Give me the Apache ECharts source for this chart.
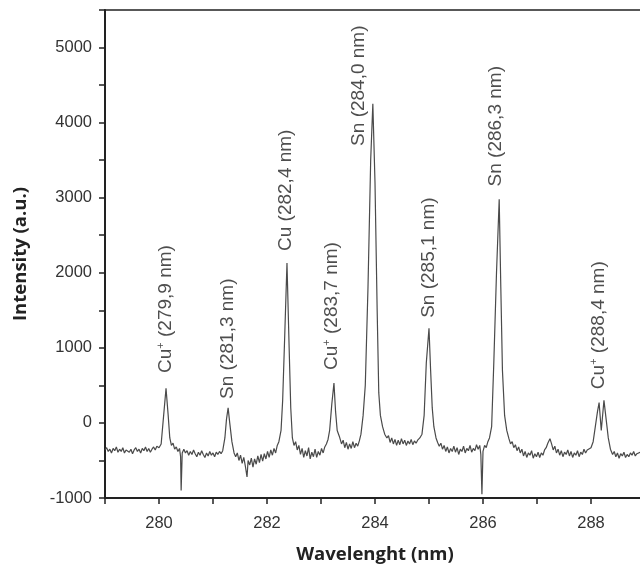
<!DOCTYPE html>
<html>
<head>
<meta charset="utf-8">
<script src="https://cdn.jsdelivr.net/npm/echarts@6/dist/echarts.min.js"></script>
<style>
  html, body { margin: 0; padding: 0; background: #fff; }
  #main { width: 640px; height: 568px; }
</style>
</head>
<body>
<div id="main"></div>
<script>
// spectrum: [wavelength nm, intensity a.u.]
var spectrum = [
  [279.00,-360],[279.03,-330],[279.06,-380],[279.09,-350],[279.12,-400],[279.15,-340],[279.18,-370],[279.21,-320],
  [279.24,-390],[279.27,-350],[279.30,-380],[279.33,-330],[279.36,-400],[279.39,-360],[279.42,-340],[279.45,-390],
  [279.48,-350],[279.51,-410],[279.54,-360],[279.57,-330],[279.60,-380],[279.63,-350],[279.66,-400],[279.69,-340],
  [279.72,-370],[279.75,-320],[279.78,-380],[279.81,-340],[279.84,-390],[279.87,-350],[279.90,-320],[279.93,-360],
  [279.96,-310],[280.00,-330],[280.04,-280],[280.08,50],[280.13,460],[280.17,100],[280.20,-200],[280.23,-300],
  [280.26,-270],[280.29,-350],[280.32,-320],[280.35,-380],[280.38,-340],[280.40,-450],[280.41,-900],[280.43,-400],
  [280.46,-350],[280.49,-400],[280.52,-370],[280.55,-430],[280.58,-380],[280.61,-420],[280.64,-360],[280.67,-410],
  [280.70,-450],[280.73,-390],[280.76,-430],[280.79,-370],[280.82,-420],[280.85,-460],[280.88,-400],[280.91,-440],
  [280.94,-380],[280.97,-430],[281.00,-400],[281.03,-450],[281.06,-390],[281.09,-420],[281.12,-380],[281.15,-410],
  [281.18,-370],[281.22,-200],[281.25,50],[281.28,200],[281.31,0],[281.35,-250],[281.39,-400],[281.42,-450],
  [281.45,-400],[281.48,-500],[281.51,-430],[281.54,-540],[281.57,-460],[281.60,-580],[281.63,-720],[281.65,-500],
  [281.68,-560],[281.71,-470],[281.74,-590],[281.77,-480],[281.80,-550],[281.83,-440],[281.86,-530],[281.89,-420],
  [281.92,-510],[281.95,-410],[281.98,-480],[282.01,-380],[282.04,-460],[282.07,-360],[282.10,-430],[282.13,-340],
  [282.16,-400],[282.19,-300],[282.22,-250],[282.26,-100],[282.29,300],[282.33,1200],[282.37,2130],[282.41,1000],
  [282.44,200],[282.47,-200],[282.50,-300],[282.53,-250],[282.56,-360],[282.59,-300],[282.62,-420],[282.65,-340],
  [282.68,-460],[282.71,-370],[282.74,-440],[282.77,-330],[282.80,-480],[282.83,-390],[282.86,-450],[282.89,-350],
  [282.92,-460],[282.95,-380],[282.98,-430],[283.01,-340],[283.04,-400],[283.07,-320],[283.10,-280],[283.13,-220],
  [283.16,-100],[283.20,250],[283.24,530],[283.27,150],[283.30,-100],[283.34,-180],[283.38,-280],[283.41,-230],
  [283.44,-330],[283.47,-260],[283.50,-350],[283.53,-280],[283.56,-340],[283.59,-250],[283.62,-330],[283.65,-270],
  [283.68,-310],[283.71,-240],[283.74,-150],[283.78,100],[283.82,500],[283.87,1800],[283.92,3500],[283.96,4250],
  [284.00,3200],[284.04,1500],[284.07,400],[284.10,100],[284.14,-50],[284.18,-150],[284.22,-200],[284.25,-170],
  [284.28,-260],[284.31,-200],[284.34,-280],[284.37,-220],[284.40,-300],[284.43,-230],[284.46,-290],[284.49,-210],
  [284.52,-280],[284.55,-230],[284.58,-300],[284.61,-240],[284.64,-280],[284.67,-220],[284.70,-290],[284.73,-240],
  [284.76,-270],[284.79,-230],[284.83,-200],[284.87,-150],[284.91,100],[284.95,800],[285.00,1260],[285.03,700],
  [285.06,200],[285.09,-50],[285.13,-200],[285.16,-260],[285.19,-310],[285.22,-270],[285.25,-350],[285.28,-300],
  [285.31,-380],[285.34,-320],[285.37,-400],[285.40,-340],[285.43,-380],[285.46,-310],[285.49,-390],[285.52,-330],
  [285.55,-420],[285.58,-350],[285.61,-380],[285.64,-310],[285.67,-400],[285.70,-340],[285.73,-370],[285.76,-300],
  [285.79,-390],[285.82,-340],[285.85,-370],[285.88,-290],[285.91,-350],[285.94,-300],[285.96,-420],[285.98,-950],
  [286.00,-380],[286.03,-300],[286.06,-330],[286.09,-250],[286.12,-200],[286.16,-50],[286.20,800],[286.25,2000],
  [286.30,2980],[286.33,1800],[286.36,700],[286.40,100],[286.44,-100],[286.48,-210],[286.51,-280],[286.54,-250],
  [286.57,-330],[286.60,-290],[286.63,-370],[286.66,-320],[286.69,-400],[286.72,-350],[286.75,-440],[286.78,-380],
  [286.81,-460],[286.84,-400],[286.87,-430],[286.90,-370],[286.93,-470],[286.96,-410],[286.99,-450],[287.02,-390],
  [287.05,-460],[287.08,-400],[287.11,-430],[287.14,-360],[287.17,-330],[287.20,-270],[287.24,-210],[287.27,-280],
  [287.30,-360],[287.33,-310],[287.36,-400],[287.39,-350],[287.42,-430],[287.45,-370],[287.48,-450],[287.51,-390],
  [287.54,-420],[287.57,-360],[287.60,-440],[287.63,-380],[287.66,-460],[287.69,-400],[287.72,-430],[287.75,-370],
  [287.78,-450],[287.81,-390],[287.84,-420],[287.87,-350],[287.90,-400],[287.93,-360],[287.96,-380],[288.00,-330],
  [288.04,-250],[288.08,-50],[288.12,150],[288.15,270],[288.19,-100],[288.24,300],[288.28,50],[288.32,-200],
  [288.36,-350],[288.40,-420],[288.43,-380],[288.46,-450],[288.49,-400],[288.52,-470],[288.55,-410],[288.58,-440],
  [288.61,-390],[288.64,-460],[288.67,-420],[288.70,-450],[288.73,-400],[288.76,-430],[288.79,-380],[288.82,-440],
  [288.85,-410],[288.88,-430],[288.91,-390],[288.94,-420],[288.97,-400],[289.00,-430]
];

// peak annotations
var peakIon = ['Cu+', 'Sn', 'Cu', 'Cu+', 'Sn', 'Sn', 'Sn', 'Cu+'];
var peakLine = ['279,9', '281,3', '282,4', '283,7', '284,0', '285,1', '286,3', '288,4'];
var labelX = [280.13, 281.28, 282.35, 283.20, 283.70, 285.00, 286.24, 288.15];
var labelY = [665, 320, 2290, 705, 3690, 1400, 3150, 450];

var xTickLabels = [280, 282, 284, 286, 288];
var yTickLabels = [-1000, 0, 1000, 2000, 3000, 4000, 5000];

var myChart = echarts.init(document.getElementById('main'));

var labelPoints = [];
for (var i = 0; i < labelX.length; i++) {
  labelPoints.push([labelX[i], labelY[i]]);
}

var option = {
  backgroundColor: '#fff',
  animation: false,
  grid: {
    left: 105, top: 10, width: 540, height: 488,
    outerBoundsMode: 'none',
    containLabel: false,
    show: true, borderColor: '#222', borderWidth: 1.5
  },
  xAxis: {
    type: 'value',
    min: 279, max: 289, interval: 1,
    name: 'Wavelenght (nm)',
    nameLocation: 'middle',
    nameGap: 47,
    nameTextStyle: { fontFamily: 'Open Sans', fontWeight: 'bold', fontSize: 18.5, color: '#222' },
    axisLine: { onZero: false, lineStyle: { color: '#222', width: 2 } },
    axisTick: { show: true, length: 6, lineStyle: { color: '#222', width: 1.5 } },
    splitLine: { show: false },
    axisLabel: {
      margin: 17,
      fontFamily: 'Liberation Sans', fontSize: 16.5, color: '#333',
      formatter: function (v) {
        return xTickLabels.indexOf(Math.round(v)) >= 0 ? String(Math.round(v)) : '';
      }
    }
  },
  yAxis: {
    type: 'value',
    min: -1000, max: 5500, interval: 500,
    name: 'Intensity (a.u.)',
    nameLocation: 'middle',
    nameGap: 75,
    nameTextStyle: { fontFamily: 'Open Sans', fontWeight: 'bold', fontSize: 18.5, color: '#222' },
    axisLine: { show: true, onZero: false, lineStyle: { color: '#222', width: 2 } },
    axisTick: { show: true, length: 6, lineStyle: { color: '#222', width: 1.5 } },
    splitLine: { show: false },
    axisLabel: {
      margin: 13,
      fontFamily: 'Liberation Sans', fontSize: 16.5, color: '#333',
      formatter: function (v) {
        return yTickLabels.indexOf(Math.round(v)) >= 0 ? String(Math.round(v)) : '';
      }
    }
  },
  series: [
    {
      name: 'spectrum',
      type: 'line',
      data: spectrum,
      symbol: 'none',
      lineStyle: { color: '#4a4a4a', width: 1.2 }
    },
    {
      name: 'peaks',
      type: 'scatter',
      data: labelPoints,
      symbolSize: 0,
      silent: true,
      z: 5,
      label: {
        show: true,
        position: [0, 0],
        rotate: 90,
        align: 'left',
        verticalAlign: 'middle',
        formatter: function (p) {
          var ion = peakIon[p.dataIndex];
          var t = '';
          if (ion.indexOf('+') > 0) {
            t = '{a|' + ion.replace('+', '') + '}{s|+}';
          } else {
            t = '{a|' + ion + '}';
          }
          return t + '{a| (' + peakLine[p.dataIndex] + ' nm)}';
        },
        rich: {
          a: { fontFamily: 'Liberation Sans', fontSize: 19, color: '#222', lineHeight: 21 },
          s: { fontFamily: 'Liberation Sans', fontSize: 11, color: '#222', lineHeight: 12, verticalAlign: 'top' }
        }
      }
    }
  ]
};

option && myChart.setOption(option);
</script>
</body>
</html>
